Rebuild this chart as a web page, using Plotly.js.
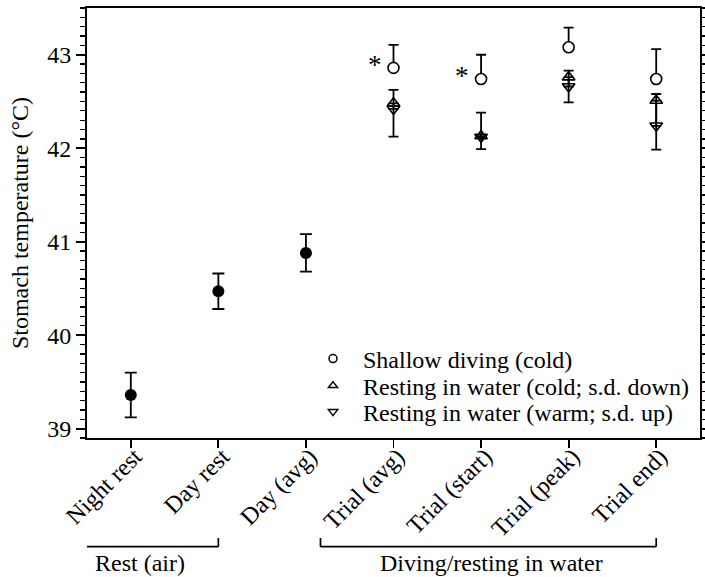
<!DOCTYPE html>
<html><head><meta charset="utf-8">
<script src="https://cdn.plot.ly/plotly-3.0.1.min.js"></script>
<style>html,body{margin:0;padding:0;background:#fff}#chart{width:705px;height:577px}</style>
</head><body><div id="chart"></div>
<script>
// ---- data ----
const categories = ['Night rest', 'Day rest', 'Day (avg)', 'Trial (avg)', 'Trial (start)', 'Trial (peak)', 'Trial end)'];
const restCats = ['Night rest', 'Day rest', 'Day (avg)'];
const restMean = [39.36, 40.47, 40.88];
const restSD = [0.24, 0.19, 0.20];
const trialCats = ['Trial (avg)', 'Trial (start)', 'Trial (peak)', 'Trial end)'];
const shallowMean = [42.86, 42.74, 43.08, 42.74];
const shallowSD = [0.245, 0.26, 0.21, 0.32];
const coldMean = [42.48, 42.13, 42.76, 42.51];
const coldSD = [0.355, 0.14, 0.27, 0.525];
const warmMean = [42.42, 42.12, 42.66, 42.24];
const warmSD = [0.205, 0.26, 0.17, 0.34];
const noSD = [0, 0, 0, 0];
const seriesNames = ['Shallow diving (cold)', 'Resting in water (cold; s.d. down)', 'Resting in water (warm; s.d. up)'];
const starCats = ['Trial (avg)', 'Trial (start)'];
const starVals = [42.86, 42.74];
const groupLabels = ['Rest (air)', 'Diving/resting in water'];
const yTickVals = [39, 40, 41, 42, 43];

const FONT = '"Liberation Serif", "Times New Roman", Times, serif';
const FS = 24;
const K = '#000';

const errStyle = (extra) => Object.assign({type: 'data', color: K, thickness: 1.8}, extra);

const traces = [
  {x: restCats, y: restMean, mode: 'markers', showlegend: false,
   marker: {symbol: 'circle', size: 12, color: K},
   error_y: errStyle({array: restSD, width: 6})},
  {x: trialCats, y: shallowMean, mode: 'markers', showlegend: false,
   marker: {symbol: 'circle', size: 11, color: '#fff', line: {color: K, width: 1.6}},
   error_y: errStyle({symmetric: false, array: shallowSD, arrayminus: noSD, width: 5})},
  {x: trialCats, y: coldMean, mode: 'markers', showlegend: false,
   marker: {symbol: 'triangle-up-open', size: 11, color: K, line: {width: 1.6}},
   error_y: errStyle({symmetric: false, array: noSD, arrayminus: coldSD, width: 5})},
  {x: trialCats, y: warmMean, mode: 'markers', showlegend: false,
   marker: {symbol: 'triangle-down-open', size: 11, color: K, line: {width: 1.6}},
   error_y: errStyle({symmetric: false, array: warmSD, arrayminus: noSD, width: 5})},
  // legend entries
  {x: [null], y: [null], mode: 'markers', name: seriesNames[0], legend: 'legend',
   marker: {symbol: 'circle-open', size: 8, color: K, line: {width: 1.5}}},
  {x: [null], y: [null], mode: 'markers', name: seriesNames[1], legend: 'legend2',
   marker: {symbol: 'triangle-up-open', size: 8, color: K, line: {width: 1.5}}},
  {x: [null], y: [null], mode: 'markers', name: seriesNames[2], legend: 'legend3',
   marker: {symbol: 'triangle-down-open', size: 8, color: K, line: {width: 1.5}}}
];

const legBase = (y) => ({x: (303 - 87) / 613, y: y, xref: 'paper', yref: 'paper', xanchor: 'left', yanchor: 'middle',
  bgcolor: 'rgba(0,0,0,0)', borderwidth: 0, itemwidth: 50, font: {family: FONT, size: FS, color: K}});

const shapes = [];
const brackets = [[-0.797, 1], [2.166, 6]];
brackets.forEach(([a, b]) => {
  const line = {color: K, width: 1.7};
  shapes.push({type: 'line', xref: 'x', yref: 'paper', x0: a, x1: b, y0: -0.2528, y1: -0.2528, line});
  shapes.push({type: 'line', xref: 'x', yref: 'paper', x0: a, x1: a, y0: -0.2528, y1: -0.2326, line});
  shapes.push({type: 'line', xref: 'x', yref: 'paper', x0: b, x1: b, y0: -0.2528, y1: -0.2326, line});
});

const annotations = [];
starCats.forEach((c, i) => annotations.push({x: c, y: starVals[i], xref: 'x', yref: 'y', text: '*', showarrow: false,
  xanchor: 'center', yanchor: 'middle', xshift: -19, yshift: 3, font: {family: FONT, size: 27, color: K}}));
annotations.push({x: 0.1, y: -0.2907, xref: 'x', yref: 'paper', text: groupLabels[0], showarrow: false,
  xanchor: 'center', yanchor: 'middle', font: {family: FONT, size: FS, color: K}});
annotations.push({x: 4.12, y: -0.2907, xref: 'x', yref: 'paper', text: groupLabels[1], showarrow: false,
  xanchor: 'center', yanchor: 'middle', font: {family: FONT, size: FS, color: K}});

const layout = {
  width: 705, height: 577,
  margin: {l: 87, r: 5, t: 8, b: 139},
  paper_bgcolor: '#fff', plot_bgcolor: '#fff',
  font: {family: FONT, size: FS, color: K},
  xaxis: {type: 'category', categoryorder: 'array', categoryarray: categories, range: [-0.5, 6.5],
    showgrid: false, zeroline: false, showline: true, linecolor: K, linewidth: 2, mirror: true,
    ticks: 'outside', ticklen: 8, tickwidth: 1.8, tickcolor: K, tickangle: -45,
    ticklabelstandoff: -15, ticklabelshift: 4,
    tickfont: {family: FONT, size: FS, color: K}},
  yaxis: {range: [38.9, 43.5], tickvals: yTickVals, ticktext: yTickVals.map(String),
    showgrid: false, zeroline: false, showline: true, linecolor: K, linewidth: 2, mirror: 'ticks',
    ticks: 'outside', ticklen: 9, tickwidth: 1.8, tickcolor: K,
    minor: {dtick: 0.1, ticks: 'outside', ticklen: 5, tickwidth: 1.3, tickcolor: K, showgrid: false},
    tickfont: {family: FONT, size: FS, color: K},
    title: {text: 'Stomach temperature (°C)', font: {family: FONT, size: FS, color: K}, standoff: 12}},
  legend: legBase(0.1837),
  legend2: legBase(0.1209),
  legend3: legBase(0.0605),
  shapes, annotations
};

Plotly.newPlot('chart', traces, layout, {displayModeBar: false, staticPlot: true});
</script></body></html>
